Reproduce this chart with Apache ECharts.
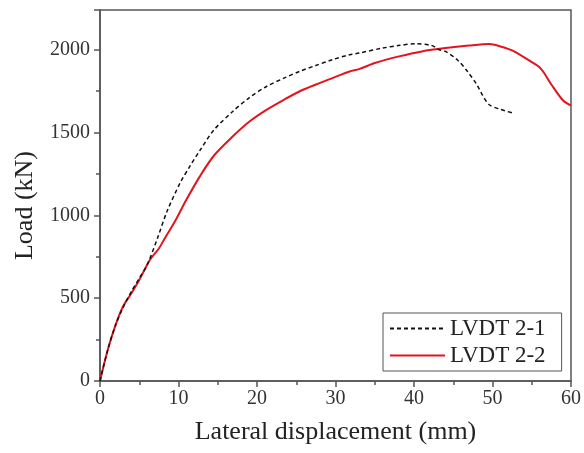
<!DOCTYPE html>
<html>
<head>
<meta charset="utf-8">
<script src="https://cdn.jsdelivr.net/npm/echarts@6/dist/echarts.min.js"></script>
<style>
  html, body { margin: 0; padding: 0; background: #fff; }
  #chart { width: 584px; height: 453px; }
</style>
</head>
<body>
<div id="chart"></div>
<script>
// LVDT 2-1 (black dashed)
var lvdt1_x = [0, 1, 2, 3, 4, 5, 6, 7.4, 8.5, 10.2, 11.5, 12.7, 14.5, 16.9, 19, 21.2, 23.5, 25.4, 27.5, 29.6, 31.8, 33, 36, 38, 40.2, 42.3, 43.2, 44, 45.5, 46.8, 48, 48.7, 49.6, 51, 52.5];
var lvdt1_y = [0, 190, 340, 450, 540, 620, 700, 872, 1020, 1195, 1300, 1390, 1515, 1627, 1710, 1778, 1830, 1869, 1905, 1940, 1970, 1980, 2010, 2025, 2036, 2025, 2000, 1990, 1940, 1870, 1790, 1728, 1668, 1640, 1619];
// LVDT 2-2 (red solid)
var lvdt2_x = [0, 1, 2, 2.9, 4, 5, 6.35, 7.5, 8.26, 9.5, 11, 12.7, 14.5, 16.9, 19, 21.2, 23.5, 25.4, 27.5, 29.6, 31.8, 33, 35, 38.1, 41, 44, 47, 49.6, 51, 52.5, 54.5, 56.1, 57.5, 58.9, 59.7, 60];
var lvdt2_y = [0, 190, 340, 447, 530, 610, 731, 800, 862, 960, 1094, 1234, 1360, 1476, 1565, 1637, 1700, 1748, 1790, 1829, 1869, 1883, 1920, 1960, 1990, 2010, 2025, 2034, 2020, 1996, 1940, 1889, 1790, 1698, 1670, 1665];

var x_ticks = [0, 10, 20, 30, 40, 50, 60];
var y_ticks = [0, 500, 1000, 1500, 2000];

function pairs(xs, ys){
    var out = [];
    for(var i=0;i<xs.length;i++){
        out.push([xs[i], ys[i]]);
    }
    return out;
}

var font = '"Liberation Serif", "Times New Roman", serif';
var axisColor = '#555';

var myChart = echarts.init(document.getElementById('chart'), null, {renderer: 'canvas'});
var option = {
    animation: false,
    backgroundColor: '#fff',
    textStyle: { fontFamily: font },
    grid: {
        left: 100,
        right: 12,
        top: 10,
        bottom: 72,
        show: true,
        borderColor: axisColor,
        borderWidth: 1.5
    },
    legend: {
        left: 383,
        top: 313,
        orient: 'vertical',
        itemWidth: 55,
        itemHeight: 10,
        itemGap: 4,
        padding: [4, 16, 4, 6],
        borderColor: axisColor,
        borderWidth: 1,
        itemStyle: { opacity: 0 },
        textStyle: { fontFamily: font, fontSize: 23, color: '#222' },
        data: ['LVDT 2-1', 'LVDT 2-2']
    },
    xAxis: {
        type: 'value',
        min: 0,
        max: 60,
        interval: 10,
        name: 'Lateral displacement (mm)',
        nameLocation: 'middle',
        nameGap: 38,
        nameTextStyle: { fontFamily: font, fontSize: 26, color: '#222' },
        axisLine: { show: true, onZero: false, lineStyle: { color: axisColor, width: 1.5 } },
        axisTick: { show: true, inside: false, length: 6, lineStyle: { color: axisColor, width: 1.5 } },
        minorTick: { show: true, splitNumber: 2, length: 4, lineStyle: { color: axisColor, width: 1.5 } },
        axisLabel: {
            fontFamily: font, fontSize: 20, color: '#333', margin: 8,
            formatter: function(v){ return x_ticks.indexOf(v) >= 0 ? String(v) : ''; }
        },
        splitLine: { show: false }
    },
    yAxis: {
        type: 'value',
        min: 0,
        max: 2240,
        interval: 500,
        name: 'Load (kN)',
        nameLocation: 'middle',
        nameGap: 62,
        nameTextStyle: { fontFamily: font, fontSize: 26, color: '#222', padding: [0, 20, 0, 0] },
        axisLine: { show: true, lineStyle: { color: axisColor, width: 1.5 } },
        axisTick: { show: true, inside: false, length: 6, lineStyle: { color: axisColor, width: 1.5 } },
        minorTick: { show: true, splitNumber: 2, length: 4, lineStyle: { color: axisColor, width: 1.5 } },
        axisLabel: {
            fontFamily: font, fontSize: 20, color: '#333', margin: 10,
            showMaxLabel: false,
            formatter: function(v){ return y_ticks.indexOf(v) >= 0 ? String(v) : ''; }
        },
        splitLine: { show: false }
    },
    series: [
        {
            name: 'LVDT 2-1',
            type: 'line',
            data: pairs(lvdt1_x, lvdt1_y),
            symbol: 'none',
            smooth: 0.3,
            lineStyle: { color: '#111', width: 1.5, type: [4, 3] },
            itemStyle: { color: '#111' },
            z: 3
        },
        {
            name: 'LVDT 2-2',
            type: 'line',
            data: pairs(lvdt2_x, lvdt2_y),
            symbol: 'none',
            smooth: 0.3,
            lineStyle: { color: '#e3141e', width: 2 },
            itemStyle: { color: '#e3141e' },
            z: 2
        }
    ]
};
myChart.setOption(option);
</script>
</body>
</html>
